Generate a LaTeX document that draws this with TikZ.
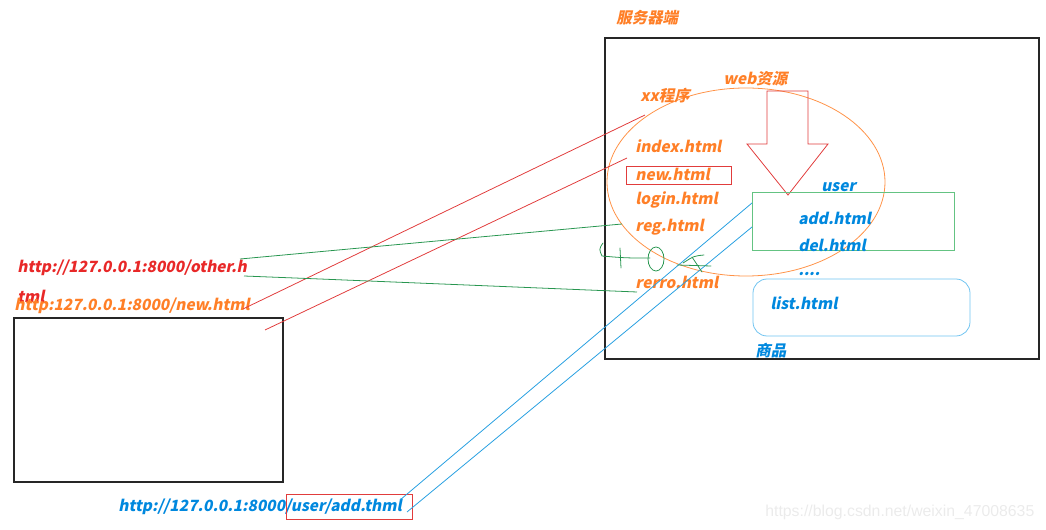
\documentclass[tikz,border=0pt]{standalone}
\usepackage{fontspec}
\newfontfamily\yahei[FakeSlant=0.2]{Noto Sans CJK SC}
\setsansfont{Liberation Sans}
\definecolor{penorange}{RGB}{255, 127, 39}
\definecolor{penred}{RGB}{232, 40, 40}
\definecolor{penblue}{RGB}{0, 136, 222}
\definecolor{linered}{RGB}{225, 60, 60}
\definecolor{linegreen}{RGB}{40, 150, 80}
\definecolor{lineblue}{RGB}{40, 160, 225}
\definecolor{boxgreen}{RGB}{100, 195, 130}
\definecolor{boxblue}{RGB}{110, 195, 240}
\usetikzlibrary{positioning, calc}

\begin{document}
\begin{tikzpicture}[x=0.02cm, y=-0.02cm,
  hand/.style={font=\yahei\bfseries\fontsize{8.8}{10}\selectfont, inner sep=0pt, anchor=west},
  thinline/.style={line width=0.45pt}]
  \useasboundingbox (0,0) rectangle (1046,530);

  % server side
  \node[hand, text=penorange] (servlbl) at (616, 18) {服务器端};
  \draw[line width=0.8pt, black!85] (605, 38) rectangle (1039, 359);
  \draw[thinline, penorange!85] (746, 182) ellipse [x radius=139, y radius=94];
  \node[hand, text=penorange] (xxlbl) at (640, 96) {xx程序};
  \node[hand, text=penorange] (weblbl) at (723, 79) {web资源};

  % big arrow
  \draw[thinline, linered] (767, 91) -- (808, 91) -- (808, 144) -- (828, 144)
    -- (788, 195) -- (747, 144) -- (767, 144) -- cycle;

  % pages of the program
  \node[hand, text=penorange] (index) at (635, 146) {index.html};
  \node[hand, text=penorange] (new) at (635, 174) {new.html};
  \draw[thinline, linered] (626, 166) rectangle (731, 184);
  \node[hand, text=penorange] (login) at (635, 200) {login.html};
  \node[hand, text=penorange] (reg) at (635, 227) {reg.html};
  \node[hand, text=penorange] (rerro) at (635, 282) {rerro.html};

  % user folder
  \draw[thinline, boxgreen] (752, 192) rectangle (954, 250);
  \node[hand, text=penblue] (user) at (821, 187) {user};
  \node[hand, text=penblue] (add) at (798, 218) {add.html};
  \node[hand, text=penblue] (del) at (798, 245) {del.html};
  \node[hand, text=penblue] (dots) at (798, 274) {....};

  % goods folder
  \draw[thinline, boxblue, rounded corners=8pt] (753, 279) rectangle (970, 336);
  \node[hand, text=penblue] (list) at (770, 303) {list.html};
  \node[hand, text=penblue] (goods) at (755, 351) {商品};

  % client side
  \draw[line width=0.8pt, black!85] (14, 318) rectangle (283, 482);
  \node[hand, text=penred] (other) at (17, 268) {http://127.0.0.1:8000/other.h};
  \node[hand, text=penred] (othertail) at (17, 296) {tml};
  \node[hand, text=penorange] (newurl) at (14, 306) {http:127.0.0.1:8000/new.html};
  \node[hand, text=penblue] (addurl) at (118, 507) {http://127.0.0.1:8000/user/add.thml};
  \draw[thinline, linered] (286, 494) rectangle (412, 519);

  % request lines
  \coordinate (ra) at (243, 309);
  \coordinate (rb) at (265, 330);
  \coordinate (xxend) at (645, 115);
  \coordinate (newend) at (627, 158);
  \draw[thinline, linered] (ra) -- (xxend);
  \draw[thinline, linered] (rb) -- (newend);

  \coordinate (ga) at (240, 259);
  \coordinate (gb) at (244, 276);
  \coordinate (regend) at (622, 224);
  \coordinate (rerroend) at (637, 292);
  \draw[thinline, linegreen] (ga) -- (regend);
  \draw[thinline, linegreen] (gb) -- (320, 279) -- (rerroend);

  \coordinate (ba) at (400, 500);
  \coordinate (bb) at (407, 512);
  \coordinate (adda) at (752, 203);
  \coordinate (addb) at (752, 227);
  \draw[thinline, lineblue] (ba) -- (adda);
  \draw[thinline, lineblue] (bb) -- (addb);

  % 404 scribble
  \draw[thinline, linegreen, line cap=round] (603, 243) .. controls (599, 249) .. (602, 256)
    .. controls (625, 258) .. (650, 258);
  \draw[thinline, linegreen, line cap=round] (620, 248) -- (621, 268);
  \draw[thinline, linegreen] (656, 259) ellipse [x radius=8, y radius=12];
  \draw[thinline, linegreen, line cap=round] (677, 265) -- (711, 266);
  \draw[thinline, linegreen, line cap=round] (683, 263) .. controls (694, 256) .. (704, 255);
  \draw[thinline, linegreen, line cap=round] (692, 257) -- (702, 272);

  % watermark
  \node[inner sep=0pt, anchor=west, text=black!8, font=\sffamily\fontsize{9}{10}\selectfont] (mark) at (765, 512) {https://blog.csdn.net/weixin\_47008635};
\end{tikzpicture}
\end{document}
